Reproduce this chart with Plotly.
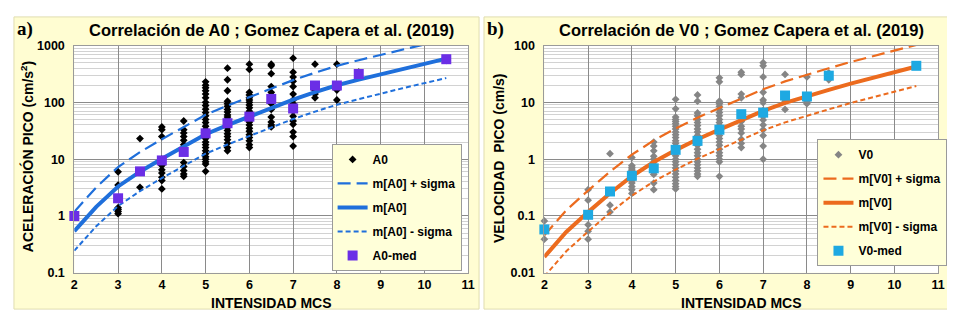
import plotly.graph_objects as go

# ---------------- data ----------------
intensity_curve = [2, 2.5, 3, 3.5, 4, 4.5, 5, 5.5, 6, 6.5, 7, 7.5, 8, 8.5, 9, 9.5, 10, 10.5]

mA0 = [0.54, 1.45, 3.31, 6.03, 10.2, 17.0, 27.5, 39.8, 56.2, 81.3, 112, 151, 200, 251, 309, 389, 479, 589]
mA0_plus = [1.19, 3.19, 7.28, 13.3, 22.4, 37.4, 60.5, 87.6, 124, 179, 246, 332, 440, 552, 680, 856, 1054, 1296]
mA0_minus = [0.245, 0.66, 1.50, 2.74, 4.64, 7.73, 12.5, 18.1, 25.5, 37.0, 50.9, 68.6, 90.9, 114, 140, 177, 218, 268]

mV0 = [0.019, 0.0525, 0.117, 0.251, 0.501, 0.891, 1.445, 2.24, 3.31, 4.90, 7.08, 9.77, 12.9, 16.6, 21.4, 26.9, 33.9, 42.7]
mV0_plus = [0.0456, 0.126, 0.281, 0.602, 1.20, 2.14, 3.47, 5.38, 7.94, 11.8, 17.0, 23.4, 31.0, 39.8, 51.4, 64.6, 81.4, 102.5]
mV0_minus = [0.00864, 0.0239, 0.0532, 0.114, 0.228, 0.405, 0.657, 1.02, 1.50, 2.23, 3.22, 4.44, 5.86, 7.55, 9.73, 12.2, 15.4, 19.4]

med_intensity = [2, 3, 3.5, 4, 4.5, 5, 5.5, 6, 6.5, 7, 7.5, 8, 8.5, 10.5]
A0_med = [1.0, 2.05, 6.1, 9.5, 13.4, 28.5, 43, 56, 115, 78, 198, 198, 316, 575]
V0_med = [0.058, 0.105, 0.27, 0.51, 0.69, 1.46, 2.1, 3.3, 6.2, 6.6, 13.2, 12.7, 29.5, 44]

A0_obs = {
    2: [1.0],
    3: [6.0, 3.5, 1.4, 1.3, 1.2, 1.1],
    3.5: [23, 6.0, 3.2],
    4: [37, 33, 25, 10, 8.7, 7.7, 6.5, 5.7, 4.8, 4.2, 3.0],
    4.5: [47, 33, 29, 25, 21.5, 18, 13.5, 8.7, 7.4, 6.3, 5.5, 5.0],
    5: [230, 200, 180, 160, 140, 120, 100, 88, 76, 66, 58, 50, 44, 38, 33, 29, 26, 23, 20, 18, 16, 14, 12.5, 11, 10, 9, 8.2, 6.1],
    5.5: [400, 250, 160, 105, 95, 85, 75, 68, 60, 55, 50, 45, 40, 36, 32, 28, 25, 22, 19, 16, 14],
    6: [470, 380, 150, 135, 120, 110, 100, 90, 80, 70, 62, 55, 50, 45, 40, 35, 31, 27, 24, 21, 18, 16],
    6.5: [470, 440, 320, 190, 150, 135, 115, 95, 75, 55, 45, 40, 37],
    7: [600, 340, 280, 235, 190, 140, 110, 95, 70, 57, 47, 41, 30, 25, 17],
    7.5: [470, 160, 140, 120],
    8: [470, 175, 165, 110],
    8.5: [340, 300],
    10.5: [550],
}

V0_obs = {
    2: [0.082, 0.057, 0.039],
    3: [0.29, 0.19, 0.1, 0.07, 0.054, 0.039],
    3.5: [1.25, 0.27, 0.155, 0.118],
    4: [1.07, 0.77, 0.72, 0.67, 0.63, 0.57, 0.51, 0.46, 0.42, 0.38, 0.33, 0.29, 0.25],
    4.5: [2.0, 1.7, 1.4, 1.13, 1.0, 0.88, 0.69, 0.62, 0.58, 0.54, 0.38, 0.29],
    5: [11.3, 7.7, 5.5, 5.0, 4.6, 4.2, 3.8, 3.4, 3.0, 2.7, 2.4, 2.1, 1.9, 1.7, 1.5, 1.3, 1.15, 1.0, 0.9, 0.8, 0.7, 0.62, 0.55, 0.48, 0.42, 0.37, 0.33, 0.3],
    5.5: [13.5, 10.5, 6.5, 5.8, 5.0, 4.4, 3.9, 3.4, 3.0, 2.6, 2.3, 2.0, 1.75, 1.5, 1.3, 1.15, 1.0, 0.9, 0.8, 0.7, 0.62, 0.55, 0.5],
    6: [27, 23, 10.5, 9.5, 8.5, 7.5, 6.6, 5.8, 5.0, 4.4, 3.9, 3.4, 3.0, 2.6, 2.3, 2.0, 1.75, 1.5, 1.3, 1.15, 1.0, 0.9, 0.5],
    6.5: [34, 31, 14, 12, 6.3, 5.2, 4.6, 3.8, 3.4, 2.9, 2.25, 1.9, 1.6],
    7: [50, 44, 28, 15, 11, 9.9, 7.2, 6.5, 5.7, 4.9, 4.0, 3.3, 2.6, 1.7, 1.0],
    7.5: [31, 10.5, 7.5],
    8: [28, 11.5, 10.5, 9.5],
    8.5: [33, 28, 25],
    10.5: [44],
}

x_ticks = [2, 3, 4, 5, 6, 7, 8, 9, 10, 11]
yA_ticks = [0.1, 1, 10, 100, 1000]
yA_labels = ["0.1", "1", "10", "100", "1000"]
yV_ticks = [0.01, 0.1, 1, 10, 100]
yV_labels = ["0.01", "0.1", "1", "10", "100"]


def flatten(d):
    xs, ys = [], []
    for k, vals in d.items():
        for v in vals:
            xs.append(k)
            ys.append(v)
    return xs, ys


# ---------------- style ----------------
W, H = 955, 310
FONT = "Liberation Sans, Arial, sans-serif"
BLUE = "#1F6FDB"
PURPLE = "#6B2EE6"
ORANGE = "#EC6B1E"
CYAN = "#1EA9E2"
BEIGE = "#FFFDD2"
LEGBG = "#FFFFD9"

fig = go.Figure()

ax, ay = flatten(A0_obs)
vx, vy = flatten(V0_obs)

# Left panel traces
fig.add_trace(go.Scatter(x=ax, y=ay, mode="markers", name="A0", cliponaxis=False,
                         marker=dict(symbol="diamond", size=6, color="black"),
                         xaxis="x", yaxis="y", legend="legend", legendgroup="a1"))
fig.add_trace(go.Scatter(x=intensity_curve, y=mA0_plus, mode="lines", name="m[A0] + sigma",
                         line=dict(color=BLUE, width=2.2, dash="13px,6px"),
                         xaxis="x", yaxis="y", legend="legend", legendgroup="a2"))
fig.add_trace(go.Scatter(x=intensity_curve, y=mA0, mode="lines", name="m[A0]",
                         line=dict(color=BLUE, width=4),
                         xaxis="x", yaxis="y", legend="legend", legendgroup="a3"))
fig.add_trace(go.Scatter(x=intensity_curve, y=mA0_minus, mode="lines", name="m[A0] - sigma",
                         line=dict(color=BLUE, width=2, dash="5px,3px"),
                         xaxis="x", yaxis="y", legend="legend", legendgroup="a4"))
fig.add_trace(go.Scatter(x=med_intensity, y=A0_med, mode="markers", name="A0-med", cliponaxis=False,
                         marker=dict(symbol="square", size=10, color=PURPLE),
                         xaxis="x", yaxis="y", legend="legend", legendgroup="a5"))

# Right panel traces
fig.add_trace(go.Scatter(x=vx, y=vy, mode="markers", name="V0", cliponaxis=False,
                         marker=dict(symbol="diamond", size=6, color="#858585"),
                         xaxis="x2", yaxis="y2", legend="legend2", legendgroup="b1"))
fig.add_trace(go.Scatter(x=intensity_curve, y=mV0_plus, mode="lines", name="m[V0] + sigma",
                         line=dict(color=ORANGE, width=2.2, dash="13px,6px"),
                         xaxis="x2", yaxis="y2", legend="legend2", legendgroup="b2"))
fig.add_trace(go.Scatter(x=intensity_curve, y=mV0, mode="lines", name="m[V0]",
                         line=dict(color=ORANGE, width=4),
                         xaxis="x2", yaxis="y2", legend="legend2", legendgroup="b3"))
fig.add_trace(go.Scatter(x=intensity_curve, y=mV0_minus, mode="lines", name="m[V0] - sigma",
                         line=dict(color=ORANGE, width=2, dash="5px,3px"),
                         xaxis="x2", yaxis="y2", legend="legend2", legendgroup="b4"))
fig.add_trace(go.Scatter(x=med_intensity, y=V0_med, mode="markers", name="V0-med", cliponaxis=False,
                         marker=dict(symbol="square", size=10, color=CYAN),
                         xaxis="x2", yaxis="y2", legend="legend2", legendgroup="b5"))

# plot-area pixel geometry
L1, R1 = 64, 462
L2, R2 = 539, 937
TOP, BOT = 32, 270
yd = [1 - BOT / H, 1 - TOP / H]

tickfont = dict(family=FONT, size=12.5, color="black", weight="bold")

xcommon = dict(range=[2, 11], tickmode="array", tickvals=x_ticks,
               ticktext=[str(t) for t in x_ticks], tickfont=tickfont,
               showgrid=True, gridcolor="#8a8a8a", gridwidth=1,
               showline=True, linecolor="#9a9a9a", mirror=True,
               zeroline=False, ticks="", ticklabelstandoff=0)
ycommon = dict(type="log", tickfont=tickfont, tickmode="array",
               showgrid=True, gridcolor="#8a8a8a", gridwidth=1,
               showline=True, linecolor="#9a9a9a", mirror=True,
               zeroline=False, ticks="", ticklabelstandoff=6,
               minor=dict(showgrid=True, gridcolor="#d2d2d2", gridwidth=1,
                          dtick="D1", ticks=""))

legfont = dict(family=FONT, size=12, color="black", weight="bold")

fig.update_layout(
    width=W, height=H,
    margin=dict(l=0, r=0, t=0, b=0),
    paper_bgcolor="white",
    plot_bgcolor="white",
    font=dict(family=FONT, color="black"),
    xaxis=dict(domain=[L1 / W, R1 / W], anchor="y", **xcommon),
    yaxis=dict(domain=yd, anchor="x", range=[-1, 3], tickvals=yA_ticks,
               ticktext=yA_labels, **ycommon),
    xaxis2=dict(domain=[L2 / W, R2 / W], anchor="y2", **xcommon),
    yaxis2=dict(domain=yd, anchor="x2", range=[-2, 2], tickvals=yV_ticks,
                ticktext=yV_labels, **ycommon),
    legend=dict(x=324 / W, y=1 - 135 / H, xanchor="left", yanchor="top",
                bgcolor=LEGBG, bordercolor="#9a9a9a", borderwidth=1,
                font=legfont, tracegroupgap=5, itemwidth=30),
    legend2=dict(x=815 / W, y=1 - 130 / H, xanchor="left", yanchor="top",
                 bgcolor=LEGBG, bordercolor="#9a9a9a", borderwidth=1,
                 font=legfont, tracegroupgap=5, itemwidth=30),
    showlegend=True,
)

# beige panel backgrounds with white plot areas
for x0, x1, p0, p1 in [(3, 473, L1, R1), (478, 952, L2, R2)]:
    fig.add_shape(type="rect", xref="paper", yref="paper", x0=x0 / W, x1=x1 / W,
                  y0=2 / H, y1=1 - 2 / H, fillcolor=BEIGE,
                  line=dict(color="#e0ddb0", width=1), layer="below")
    fig.add_shape(type="rect", xref="paper", yref="paper", x0=p0 / W, x1=p1 / W,
                  y0=yd[0], y1=yd[1], fillcolor="white", line=dict(width=0),
                  layer="below")

ann_font = dict(family=FONT, size=14, color="black")
annotations = [
    dict(text="<b>Correlación de A0 ; Gomez Capera et al. (2019)</b>", x=(L1 + R1) / 2 / W,
         y=1 - 16 / H, font=dict(family=FONT, size=16.5, color="black")),
    dict(text="<b>Correlación de V0 ; Gomez Capera et al. (2019)</b>", x=(L2 + R2) / 2 / W,
         y=1 - 16 / H, font=dict(family=FONT, size=16.5, color="black")),
    dict(text="<b>a)</b>", x=14 / W, y=1 - 15 / H,
         font=dict(family="Liberation Serif, Times New Roman, serif", size=19, color="black")),
    dict(text="<b>b)</b>", x=490 / W, y=1 - 15 / H,
         font=dict(family="Liberation Serif, Times New Roman, serif", size=19, color="black")),
    dict(text="<b>INTENSIDAD MCS</b>", x=(L1 + R1) / 2 / W, y=1 - 301.5 / H, font=ann_font),
    dict(text="<b>INTENSIDAD MCS</b>", x=(L2 + R2) / 2 / W, y=1 - 301.5 / H, font=ann_font),
    dict(text="<b>ACELERACIÓN PICO (cm/s<sup>2</sup>)</b>", x=17 / W, y=1 - 148 / H,
         textangle=-90, font=ann_font),
    dict(text="<b>VELOCIDAD  PICO (cm/s)</b>", x=493 / W, y=1 - 150 / H,
         textangle=-90, font=ann_font),
]
for a in annotations:
    a.update(xref="paper", yref="paper", showarrow=False, xanchor="center", yanchor="middle")
    fig.add_annotation(**a)

fig.write_html("out.html")
